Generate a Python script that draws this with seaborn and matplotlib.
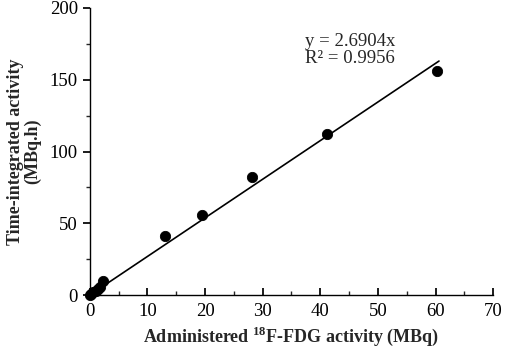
import numpy as np
import matplotlib
matplotlib.use("Agg")
import matplotlib.pyplot as plt
import seaborn as sns

# measured points (MBq, MBq.h)
administered = [0.1, 0.3, 0.6, 1.0, 1.4, 1.8, 2.3, 13.1, 19.4, 28.2, 41.2, 60.3]
integrated = [0.3, 1.0, 2.0, 3.0, 4.5, 6.0, 10.0, 41.0, 56.0, 82.0, 112.0, 156.0]
slope = 2.6904
r2 = 0.9956
fit_x = np.array([0.0, 60.6])
fit_y = slope * fit_x

sns.set_theme(style="ticks")
plt.rcParams['font.family'] = ['Liberation Serif', 'DejaVu Serif']
plt.rcParams['mathtext.fontset'] = 'custom'
plt.rcParams['mathtext.rm'] = 'Liberation Serif'
plt.rcParams['mathtext.bf'] = 'Liberation Serif:bold'

fig = plt.figure(figsize=(5.1, 3.63), dpi=100)
ax = fig.add_axes([0.176, 0.187, 0.791, 0.791])

sns.lineplot(x=fit_x, y=fit_y, color='black', linewidth=1.2, ax=ax)
sns.scatterplot(x=administered, y=integrated, color='black', s=55,
                edgecolor='black', ax=ax, zorder=3, clip_on=False)

ax.set_xlim(0, 70)
ax.set_ylim(0, 200)
ax.set_xticks(range(0, 71, 10))
ax.set_xticks(range(0, 71, 5), minor=True)
ax.set_yticks(range(0, 201, 50))
ax.set_yticks(range(0, 201, 25), minor=True)
ax.tick_params(axis='x', direction='in', length=5, labelsize=13.5, colors='black', pad=6)
ax.tick_params(axis='x', which='minor', direction='in', length=3)
ax.tick_params(axis='y', direction='out', length=5, labelsize=13.5, colors='black')
ax.tick_params(axis='y', which='minor', direction='out', length=3)
sns.despine(ax=ax)
for sp in ['left', 'bottom']:
    ax.spines[sp].set_color('black')
    ax.spines[sp].set_linewidth(1.0)

ax.set_xlabel(r'Administered $^{\mathbf{18}}$F-FDG activity (MBq)',
              fontsize=13, fontweight='bold', labelpad=3)
ax.set_ylabel('Time-integrated activity\n(MBq.h)', fontsize=13,
              fontweight='bold', linespacing=1.0, labelpad=6)

ax.text(37.3, 182.5, f'y = {slope}x\nR\u00b2 = {r2}', fontsize=13.5,
        va='top', ha='left', linespacing=1.0)

fig.savefig('out.png', dpi=100)
